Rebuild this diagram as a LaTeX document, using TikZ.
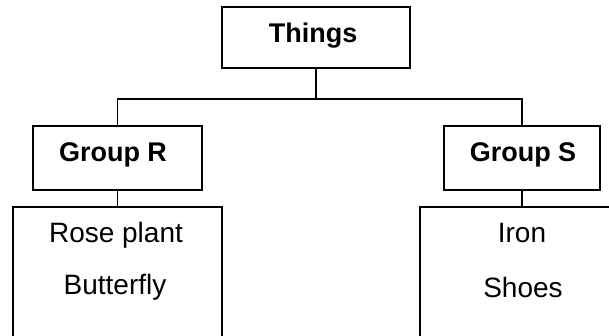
\documentclass[tikz,border=0pt]{standalone}
\usepackage{fontspec}
\setmainfont{Liberation Sans}
\begin{document}
\begin{tikzpicture}[x=1pt,y=-1pt,
  box/.style={draw, line width=1.8pt, inner sep=0pt},
  hd/.style={font=\bfseries\fontsize{27}{31}\selectfont, anchor=base, inner sep=0pt},
  lbl/.style={font=\fontsize{28}{32}\selectfont, anchor=base, inner sep=0pt},
  link/.style={line width=1.6pt}]
\useasboundingbox (0,0) rectangle (609,336);
\clip (0,0) rectangle (609,336);
% boxes
\node[box, minimum width=188pt, minimum height=61pt] (things) at (316,37.5) {};
\node[box, minimum width=169pt, minimum height=64pt] (gr) at (117.5,158) {};
\node[box, minimum width=156pt, minimum height=64pt] (gs) at (522,158) {};
\node[box, minimum width=209pt, minimum height=138pt] (rb) at (117.5,276) {};
\node[box, minimum width=208pt, minimum height=138pt] (sb) at (524,276) {};
% texts
\node[hd] (tthings) at (313,43) {Things};
\node[hd] (tgr) at (113,162) {Group R};
\node[hd] (tgs) at (523,162) {Group S};
\node[lbl] (trose) at (116,242) {Rose plant};
\node[lbl] (tbutter) at (115,294) {Butterfly};
\node[lbl] (tiron) at (522,242) {Iron};
\node[lbl] (tshoes) at (523,297) {Shoes};
% connectors
\coordinate (bus) at (316,99);
\draw[link] (things.south) -- (bus);
\draw[link] (gr.north) |- (bus) -| (gs.north);
\draw[link] (gr.south) -- (gr.south |- rb.north);
\draw[link] (gs.south) -- (gs.south |- sb.north);
\end{tikzpicture}
\end{document}
